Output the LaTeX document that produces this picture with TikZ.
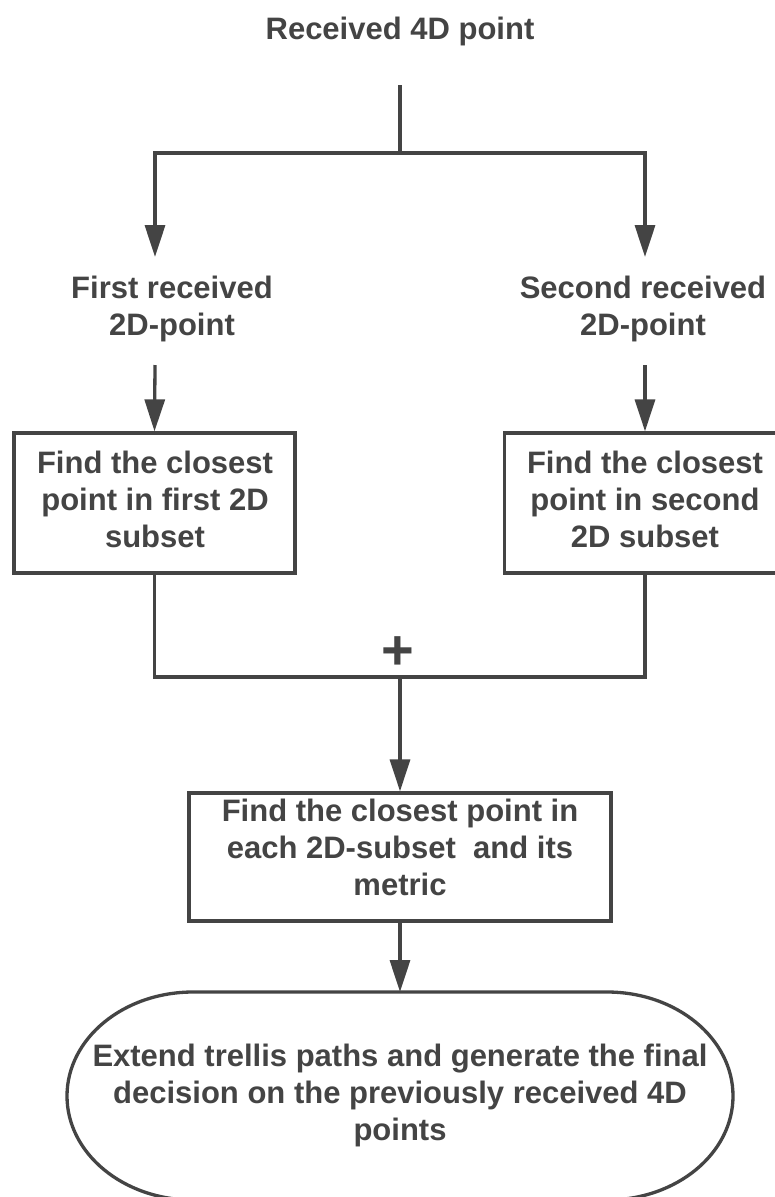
\documentclass[tikz,border=0pt]{standalone}
\usepackage{fontspec}
\setmainfont{Liberation Sans}
\usetikzlibrary{arrows.meta}
\definecolor{ink}{HTML}{444444}
\begin{document}
\begin{tikzpicture}[x=1pt,y=-1pt,
  every node/.style={text=ink},
  wire/.style={draw=ink, line width=3.3pt},
  flow/.style={wire, -{Triangle[length=32pt,width=20pt]}},
  txt/.style={font=\fontsize{31}{37}\selectfont\bfseries, align=center, inner sep=0pt},
  procbox/.style={draw=ink, line width=3.3pt, inner sep=0pt},
]
\useasboundingbox (0,0) rectangle (774,1197);
\fill[white] (0,0) rectangle (774,1197);

% source and the split into two 2D points
\node[txt] (src) at (400,31) {Received 4D point};
\coordinate (srcEnd) at (400,85);
\coordinate (fork) at (400,153);
\coordinate (inL) at (155,257);
\coordinate (inR) at (645,257);
\node[txt] (ptL) at (172,309) {First received\\2D-point};
\node[txt] (ptR) at (643,309) {Second received\\2D-point};
\coordinate (outL) at (155,365);
\coordinate (outR) at (645,365);

% per-subset search boxes
\node[procbox, minimum width=281pt, minimum height=140pt] (boxL) at (154.5,503) {};
\node[txt] (boxLt) at (155,499) {Find the closest\\point in first 2D\\subset};
\node[procbox, minimum width=281pt, minimum height=140pt] (boxR) at (645,503) {};
\node[txt] (boxRt) at (645,499) {Find the closest\\point in second\\2D subset};

% merge
\coordinate (join) at (400,677);
\node[font=\fontsize{56}{56}\selectfont\bfseries, inner sep=0pt] (plus) at (398,653) {+};

% combined search
\node[procbox, minimum width=422pt, minimum height=128pt] (boxM) at (400,857) {};
\node[txt] (boxMt) at (400,847) {Find the closest point in\\each 2D-subset\ \ and its\\metric};

% terminal stadium
\draw[wire] (193,992) -- (607,992)
  arc[start angle=-90, end angle=90, x radius=126, y radius=104]
  -- (193,1200)
  arc[start angle=90, end angle=270, x radius=126, y radius=104] -- cycle;
\coordinate (sinkTop) at (400,992);
\node[txt] (sink) at (400,1095) {Extend trellis paths and generate the final\\decision on the previously received 4D\\points};

% connectors
\draw[wire] (srcEnd) -- (fork);
\draw[flow] (fork) -| (inL);
\draw[flow] (fork) -| (inR);
\draw[flow] (outL) -- (boxL.north);
\draw[flow] (outR) -- (boxR.north);
\draw[wire] (boxL.south) |- (join) -| (boxR.south);
\draw[flow] (join) -- (boxM.north);
\draw[flow] (boxM.south) -- (sinkTop);
\end{tikzpicture}
\end{document}
